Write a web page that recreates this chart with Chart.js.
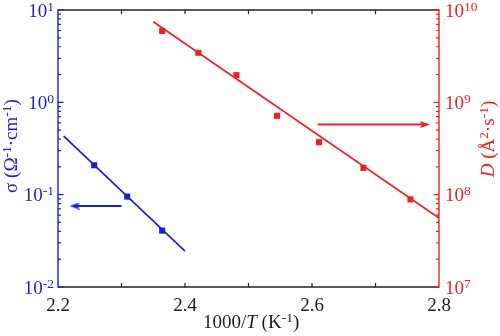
<!DOCTYPE html>
<html>
<head>
<meta charset="utf-8">
<script src="https://cdn.jsdelivr.net/npm/chart.js@4.4.1/dist/chart.umd.min.js"></script>
<style>
  html, body { margin: 0; padding: 0; background: #fff; }
  canvas { display: block; }
</style>
</head>
<body>
<canvas id="chart" width="500" height="336"></canvas>
<script>
// 1000/T (K^-1) against conductivity sigma (left axis)
const sigmaX = [2.257, 2.309, 2.364];
const sigmaY = [0.208, 0.0953, 0.0408];
const sigmaFitX = [2.209, 2.4];
const sigmaFitY = [0.43, 0.0245];
const sigmaArrowX = [2.3, 2.226];
const sigmaArrowY = [0.0753, 0.0753];

// 1000/T (K^-1) against diffusion coefficient D (right axis)
const diffX = [2.364, 2.421, 2.481, 2.545, 2.611, 2.681, 2.755];
const diffY = [5.92e9, 3.44e9, 1.97e9, 7.14e8, 3.70e8, 1.95e8, 8.9e7];
const diffFitX = [2.35, 2.8];
const diffFitY = [7.46e9, 5.58e7];
const diffArrowX = [2.609, 2.778];
const diffArrowY = [5.75e8, 5.75e8];

// tick labels
const xTickValues = [2.2, 2.4, 2.6, 2.8];
const xTickLabels = ['2.2', '2.4', '2.6', '2.8'];
const sigmaTickValues = [0.01, 0.1, 1, 10];
const sigmaTickExp = ['-2', '-1', '0', '1'];
const diffTickValues = [1e7, 1e8, 1e9, 1e10];
const diffTickExp = ['7', '8', '9', '10'];

const BLUE = '#1c1cd8';
const RED = '#ee2020';
const BLACK = '#222';
const FONT = '"Liberation Serif", "Times New Roman", serif';

function pts(xs, ys) {
  return xs.map((x, i) => ({ x: x, y: ys[i] }));
}

// small arrow head pointing right, used as point style
function arrowHead(color) {
  const c = document.createElement('canvas');
  c.width = 10;
  c.height = 7;
  const g = c.getContext('2d');
  g.fillStyle = color;
  g.beginPath();
  g.moveTo(10, 3.5);
  g.lineTo(0, 0);
  g.lineTo(2, 3.5);
  g.lineTo(0, 7);
  g.closePath();
  g.fill();
  return c;
}

function fontFor(p) {
  return (p.italic ? 'italic ' : '') + (p.sup ? '13.5px ' : '19px ') + FONT;
}

function drawRich(ctx, parts, x, y, align) {
  let w = 0;
  parts.forEach(p => { ctx.font = fontFor(p); w += ctx.measureText(p.t).width; });
  let cx = align === 'right' ? x - w : align === 'center' ? x - w / 2 : x;
  ctx.textAlign = 'left';
  ctx.textBaseline = 'alphabetic';
  parts.forEach(p => {
    ctx.font = fontFor(p);
    ctx.fillText(p.t, cx, y - (p.sup ? 6 : 0));
    cx += ctx.measureText(p.t).width;
  });
}

function isWholeMantissa(v) {
  const m = v / Math.pow(10, Math.floor(Math.log10(v) + 1e-9));
  return Math.abs(m - Math.round(m)) < 1e-6;
}

function isDecade(v) {
  const l = Math.log10(v);
  return Math.abs(l - Math.round(l)) < 1e-6;
}

const axesPlugin = {
  id: 'axesPlugin',
  afterDraw(chart) {
    const ctx = chart.ctx;
    const a = chart.chartArea;
    const sx = chart.scales.x;
    const sy = chart.scales.y;
    const sy2 = chart.scales.y2;
    ctx.save();

    // frame
    ctx.lineWidth = 1.4;
    ctx.strokeStyle = BLACK;
    ctx.beginPath();
    ctx.moveTo(a.left, a.top); ctx.lineTo(a.right, a.top);
    ctx.moveTo(a.left, a.bottom); ctx.lineTo(a.right, a.bottom);
    ctx.stroke();
    ctx.strokeStyle = BLUE;
    ctx.beginPath();
    ctx.moveTo(a.left, a.top - 0.7); ctx.lineTo(a.left, a.bottom + 0.7);
    ctx.stroke();
    ctx.strokeStyle = RED;
    ctx.beginPath();
    ctx.moveTo(a.right, a.top - 0.7); ctx.lineTo(a.right, a.bottom + 0.7);
    ctx.stroke();

    // x ticks, inward top and bottom
    ctx.lineWidth = 1.2;
    ctx.strokeStyle = BLACK;
    ctx.beginPath();
    sx.ticks.forEach(t => {
      const px = sx.getPixelForValue(t.value);
      if (px <= a.left + 1 || px >= a.right - 1) return;
      ctx.moveTo(px, a.bottom); ctx.lineTo(px, a.bottom - 4);
      ctx.moveTo(px, a.top); ctx.lineTo(px, a.top + 4);
    });
    ctx.stroke();

    // log ticks, inward
    ctx.strokeStyle = BLUE;
    ctx.beginPath();
    sy.ticks.forEach(t => {
      if (!isWholeMantissa(t.value)) return;
      const py = sy.getPixelForValue(t.value);
      const len = isDecade(t.value) ? 5.5 : 3;
      ctx.moveTo(a.left, py); ctx.lineTo(a.left + len, py);
    });
    ctx.stroke();
    ctx.strokeStyle = RED;
    ctx.beginPath();
    sy2.ticks.forEach(t => {
      if (!isWholeMantissa(t.value)) return;
      const py = sy2.getPixelForValue(t.value);
      const len = isDecade(t.value) ? 5.5 : 3;
      ctx.moveTo(a.right, py); ctx.lineTo(a.right - len, py);
    });
    ctx.stroke();

    // tick labels
    ctx.fillStyle = BLACK;
    xTickValues.forEach((v, i) => {
      drawRich(ctx, [{ t: xTickLabels[i] }], sx.getPixelForValue(v), a.bottom + 24, 'center');
    });
    ctx.fillStyle = BLUE;
    sigmaTickValues.forEach((v, i) => {
      drawRich(ctx, [{ t: '10' }, { t: sigmaTickExp[i], sup: true }], a.left - 4, sy.getPixelForValue(v) + 6.5, 'right');
    });
    ctx.fillStyle = RED;
    diffTickValues.forEach((v, i) => {
      drawRich(ctx, [{ t: '10' }, { t: diffTickExp[i], sup: true }], a.right + 6, sy2.getPixelForValue(v) + 6.5, 'left');
    });

    // axis titles
    ctx.fillStyle = BLACK;
    drawRich(ctx, [{ t: '1000/' }, { t: 'T', italic: true }, { t: ' (K' }, { t: '-1', sup: true }, { t: ')' }], 203, 328, 'left');

    ctx.fillStyle = BLUE;
    ctx.save();
    ctx.translate(17, 146);
    ctx.rotate(-Math.PI / 2);
    drawRich(ctx, [{ t: 'σ (Ω' }, { t: '-1', sup: true }, { t: '·cm' }, { t: '-1', sup: true }, { t: ')' }], 0, 0, 'center');
    ctx.restore();

    ctx.fillStyle = RED;
    ctx.save();
    ctx.translate(494, 139);
    ctx.rotate(-Math.PI / 2);
    drawRich(ctx, [{ t: 'D', italic: true }, { t: ' (Å' }, { t: '2', sup: true }, { t: '·s' }, { t: '-1', sup: true }, { t: ')' }], 0, 0, 'center');
    ctx.restore();

    ctx.restore();
  }
};

function makeChart() {
  const blueHead = arrowHead(BLUE);
  const redHead = arrowHead(RED);

  new Chart(document.getElementById('chart'), {
    type: 'scatter',
    data: {
      datasets: [
        {
          label: 'sigma fit',
          data: pts(sigmaFitX, sigmaFitY),
          yAxisID: 'y',
          showLine: true,
          borderColor: BLUE,
          borderWidth: 1.7,
          pointRadius: 0,
        },
        {
          label: 'sigma',
          data: pts(sigmaX, sigmaY),
          yAxisID: 'y',
          pointStyle: 'rect',
          pointRadius: 4.3,
          backgroundColor: BLUE,
          borderColor: BLUE,
          borderWidth: 0,
        },
        {
          label: 'sigma arrow',
          data: pts(sigmaArrowX, sigmaArrowY),
          yAxisID: 'y',
          showLine: true,
          borderColor: BLUE,
          borderWidth: 1.9,
          pointStyle: ['circle', blueHead],
          pointRadius: [0, 5],
          pointRotation: [0, 180],
        },
        {
          label: 'D fit',
          data: pts(diffFitX, diffFitY),
          yAxisID: 'y2',
          showLine: true,
          borderColor: RED,
          borderWidth: 1.7,
          pointRadius: 0,
        },
        {
          label: 'D',
          data: pts(diffX, diffY),
          yAxisID: 'y2',
          pointStyle: 'rect',
          pointRadius: 4.3,
          backgroundColor: RED,
          borderColor: RED,
          borderWidth: 0,
        },
        {
          label: 'D arrow',
          data: pts(diffArrowX, diffArrowY),
          yAxisID: 'y2',
          showLine: true,
          borderColor: RED,
          borderWidth: 1.9,
          pointStyle: ['circle', redHead],
          pointRadius: [0, 5],
          pointRotation: [0, 0],
        },
      ],
    },
    options: {
      responsive: false,
      animation: false,
      devicePixelRatio: 1,
      layout: { padding: { left: 58, right: 61, top: 10, bottom: 49 } },
      plugins: {
        legend: { display: false },
        tooltip: { enabled: false },
      },
      scales: {
        x: {
          type: 'linear',
          min: 2.2,
          max: 2.8,
          ticks: { stepSize: 0.1, display: false },
          grid: { display: false, drawTicks: false },
          border: { display: false },
        },
        y: {
          type: 'logarithmic',
          position: 'left',
          min: 0.01,
          max: 10,
          ticks: { display: false },
          grid: { display: false, drawTicks: false },
          border: { display: false },
        },
        y2: {
          type: 'logarithmic',
          position: 'right',
          min: 1e7,
          max: 1e10,
          ticks: { display: false },
          grid: { display: false, drawTicks: false },
          border: { display: false },
        },
      },
    },
    plugins: [axesPlugin],
  });
}

// make sure the serif face is ready before the canvas text is drawn
Promise.all([
  document.fonts.load('19px "Liberation Serif"', '0123456789σΩÅ'),
  document.fonts.load('italic 19px "Liberation Serif"', 'DT'),
  document.fonts.load('13.5px "Liberation Serif"', '-0123456789'),
]).then(makeChart, makeChart);
</script>
</body>
</html>
